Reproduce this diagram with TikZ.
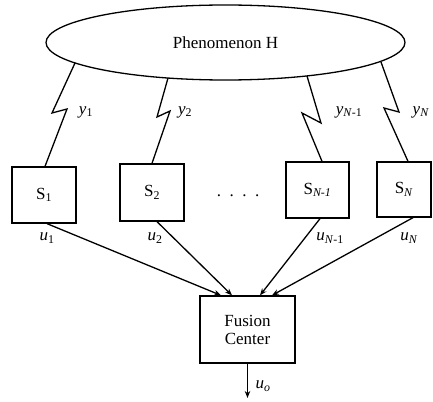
\documentclass[tikz,border=0pt]{standalone}
\usepackage{fontspec}
\setmainfont{Liberation Serif}
\usetikzlibrary{arrows.meta,calc,shapes.geometric}
\newcommand{\lbl}[2]{\textit{#1}\textsubscript{#2}}
\begin{document}
\begin{tikzpicture}[x=1pt,y=-1pt, line width=1.3pt,
  txt/.style={font=\fontsize{17}{20}\selectfont},
  box/.style={draw, inner sep=0pt, txt},
  lab/.style={inner sep=0pt, txt},
  arr/.style={-{Stealth[length=7pt,width=5.5pt]}},
  bolt/.style={line join=miter}]
\useasboundingbox (0,0) rectangle (433,401);

% phenomenon
\node[draw, ellipse, minimum width=359pt, minimum height=75pt, inner sep=0pt, txt] (H) at (225.5,42.5) {Phenomenon H};

% sensors
\node[box, minimum width=64pt, minimum height=56pt] (s1)  at (44,195)    {S\textsubscript{1}};
\node[box, minimum width=64pt, minimum height=57pt] (s2)  at (152,192.5) {S\textsubscript{2}};
\node[box, minimum width=63pt, minimum height=56pt] (sn1) at (317.5,190) {S\textsubscript{\textit{N-1}}};
\node[box, minimum width=54pt, minimum height=55pt] (sn)  at (404,189.5) {S\textsubscript{\textit{N}}};
\node[lab] (dots) at (238,196) {.\ \ .\ \ .\ \ .};

% fusion center
\node[box, minimum width=95pt, minimum height=67pt, align=center] (fc) at (247.5,329.5) {Fusion\\[-2pt]Center};

% bolt points
\coordinate (t1) at (75,63);   \coordinate (a1) at (52,113);  \coordinate (b1) at (67,109);
\coordinate (t2) at (168,78);  \coordinate (a2) at (157,117); \coordinate (b2) at (170,111);
\coordinate (t3) at (307,76);  \coordinate (a3) at (321,123); \coordinate (b3) at (302,113);
\coordinate (t4) at (381,62);  \coordinate (a4) at (399,112); \coordinate (b4) at (384,108);

\draw[bolt] (t1) -- (a1) -- (b1) -- ([xshift=1pt]s1.north);
\draw[bolt] (t2) -- (a2) -- (b2) -- (s2.north);
\draw[bolt] (t3) -- (a3) -- (b3) -- ([xshift=4.5pt]sn1.north);
\draw[bolt] (t4) -- (a4) -- (b4) -- ([xshift=4pt]sn.north);

\node[lab] (y1) at (86,112) {\lbl{y}{1}};
\node[lab] (y2) at (185,112) {\lbl{y}{2}};
\node[lab] (y3) at (349,112) {\textit{y}\textsubscript{\textit{N}-1}};
\node[lab] (y4) at (421,112) {\textit{y}\textsubscript{\textit{N}}};

% arrows to fusion center
\draw[arr] ([xshift=3pt]s1.south)   -- ([xshift=-26.5pt]fc.north);
\draw[arr] ([xshift=5pt]s2.south)   -- ([xshift=-15.5pt]fc.north);
\draw[arr] ([xshift=2.5pt]sn1.south) -- ([xshift=12.5pt]fc.north);
\draw[arr] ([xshift=9pt]sn.south)   -- ([xshift=24.5pt]fc.north);

\node[lab] (u1) at (47,238)  {\lbl{u}{1}};
\node[lab] (u2) at (155,238) {\lbl{u}{2}};
\node[lab] (u3) at (330,238) {\textit{u}\textsubscript{\textit{N}-1}};
\node[lab] (u4) at (409,238) {\textit{u}\textsubscript{\textit{N}}};

% output
\coordinate (out) at (247.5,398);
\draw[arr] (fc.south) -- (out);
\node[lab] (uo) at (263,386) {\textit{u}\textsubscript{\textit{o}}};
\end{tikzpicture}
\end{document}
